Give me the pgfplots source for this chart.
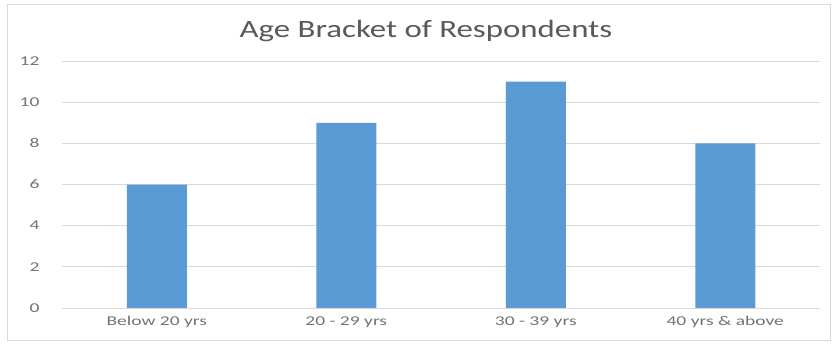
\documentclass[border=0pt]{standalone}
\usepackage{pgfplots}
\pgfplotsset{compat=1.18}
\usepackage{fontspec}
\setmainfont{Carlito}
\newfontfamily\tickfont[FakeStretch=1.45]{Carlito}
\newfontfamily\titlefont[FakeStretch=1.32]{Carlito}
\definecolor{barblue}{HTML}{5B9BD5}
\definecolor{txtgray}{HTML}{595959}
\definecolor{ticgray}{HTML}{737373}
\definecolor{gridgray}{HTML}{D9D9D9}
\begin{document}
\begin{tikzpicture}[x=1bp,y=1bp]
\useasboundingbox (0,0) rectangle (832,343);
\fill[white] (0,0) rectangle (832,343);
\draw[gridgray,line width=1bp] (7,3) rectangle (830,338);
\begin{axis}[
  at={(62bp,35bp)}, anchor=south west,
  scale only axis, width=758bp, height=247bp,
  xmin=-0.5, xmax=3.5, ymin=0, ymax=12,
  ytick={0,2,...,12},
  xtick=data,
  xticklabels={Below 20 yrs, 20 - 29 yrs, 30 - 39 yrs, 40 yrs \& above},
  axis line style={draw=none},
  major tick length=0pt,
  ymajorgrids, grid style={gridgray, line width=0.8bp},
  tick label style={font=\tickfont\fontsize{13.5}{15}\selectfont, text=ticgray},
  /pgf/number format/assume math mode=true,
  yticklabel style={xshift=-19bp},
  xticklabel style={yshift=-5bp},
  ybar, bar width=60bp,
  title={Age Bracket of Respondents},
  title style={font=\titlefont\fontsize{25}{28}\selectfont, text=txtgray, at={(0.480,1)}, yshift=10bp},
  clip=false,
]
\addplot[fill=barblue, draw=none] coordinates {(0,6) (1,9) (2,11) (3,8)};
\draw[gridgray, line width=0.8bp] (axis cs:-0.5,0) -- (axis cs:3.5,0);
\end{axis}
\end{tikzpicture}
\end{document}
